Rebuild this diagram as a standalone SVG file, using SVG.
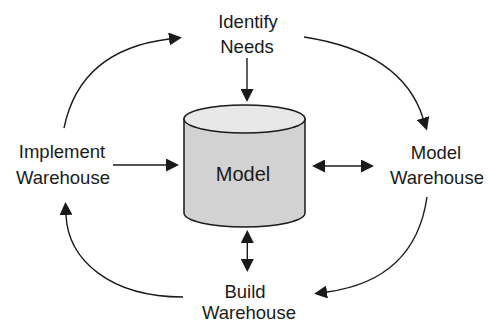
<svg xmlns="http://www.w3.org/2000/svg" width="488" height="322" viewBox="0 0 488 322">
<style>
.lbl{font-family:"Liberation Sans",Arial,sans-serif;font-size:18.5px;fill:#1a1a1a;text-anchor:middle}
.con{fill:none;stroke:#1a1a1a;stroke-width:1.4}
.cyl{stroke:#1a1a1a;stroke-width:1.5}
</style>
<defs>
<marker id="ah" viewBox="0 0 13 13" markerWidth="13" markerHeight="13" refX="0" refY="6.5" orient="auto-start-reverse" markerUnits="userSpaceOnUse">
<path d="M0,0 L13,6.5 L0,13 z" fill="#1a1a1a"/>
</marker>
</defs>
<rect width="488" height="322" fill="#fff"/>
<g id="model">
<path class="cyl" d="M184,119 L184,213 A60.5,14 0 0 0 305,213 L305,119 Z" fill="#d2d2d2"/>
<ellipse class="cyl" cx="244.5" cy="119" rx="60.5" ry="14" fill="#e8e8e8"/>
<text class="lbl" x="243" y="181" style="font-size:20px">Model</text>
</g>
<g id="identify-needs">
<text class="lbl" x="248" y="28">Identify</text>
<text class="lbl" x="247" y="53">Needs</text>
</g>
<g id="implement-warehouse">
<text class="lbl" x="62" y="158">Implement</text>
<text class="lbl" x="63" y="184">Warehouse</text>
</g>
<g id="model-warehouse">
<text class="lbl" x="436" y="159">Model</text>
<text class="lbl" x="437" y="184">Warehouse</text>
</g>
<g id="build-warehouse">
<text class="lbl" x="245" y="298">Build</text>
<text class="lbl" x="249" y="319">Warehouse</text>
</g>
<g id="connectors">
<path class="con" d="M247,58 L247,89" marker-end="url(#ah)"/>
<path class="con" d="M113,165 L166,165" marker-end="url(#ah)"/>
<path class="con" d="M325,166 L361,166" marker-start="url(#ah)" marker-end="url(#ah)"/>
<path class="con" d="M247.3,243 L247.3,259" marker-start="url(#ah)" marker-end="url(#ah)"/>
<path class="con" d="M64,128 Q80,50 169,39" marker-end="url(#ah)"/>
<path class="con" d="M304,37 Q402,52 423,118" marker-end="url(#ah)"/>
<path class="con" d="M427,197 Q415,280 327,292" marker-end="url(#ah)"/>
<path class="con" d="M183,297 C110,297 68,260 66,215" marker-end="url(#ah)"/>
</g>
</svg>
